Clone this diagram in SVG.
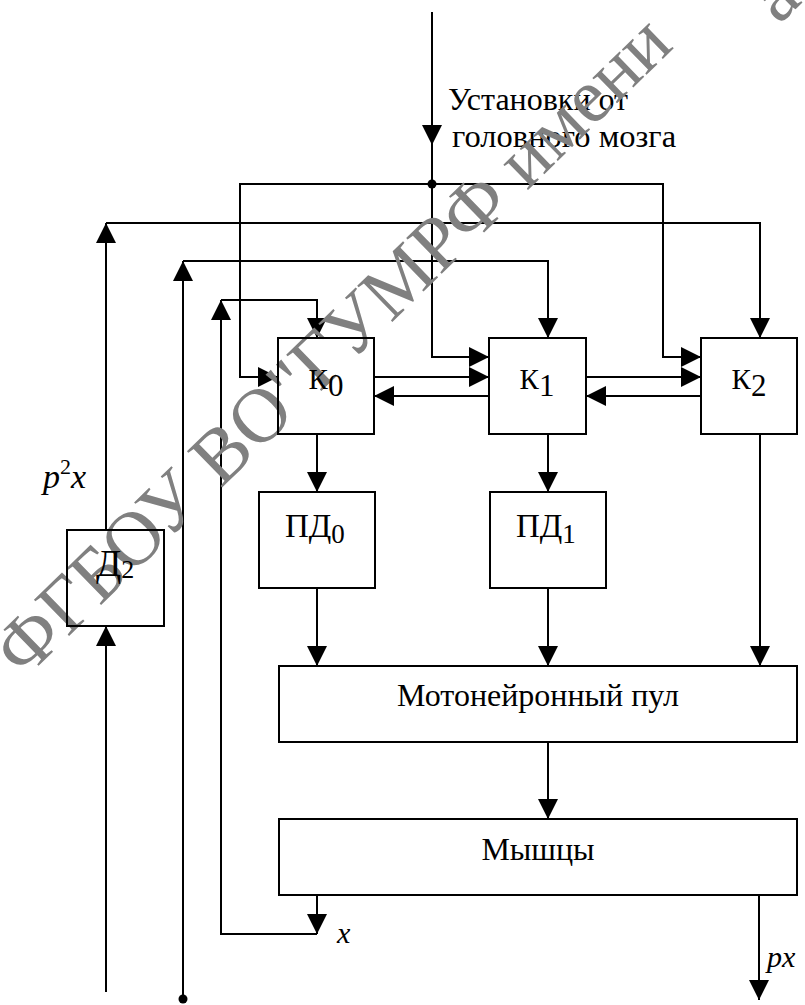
<svg xmlns="http://www.w3.org/2000/svg" width="805" height="1005" viewBox="0 0 805 1005">
<style>
.box{fill:none;stroke:#000;stroke-width:2}
.ln{fill:none;stroke:#000;stroke-width:2}
.t{font-family:"Liberation Serif","Times New Roman",serif;fill:#000}
.i{font-style:italic}
.wm{font-family:"Liberation Serif","Times New Roman",serif;fill:#808080;font-size:77px}
</style>
<defs>
<marker id="ah" markerUnits="userSpaceOnUse" markerWidth="20" markerHeight="20" viewBox="0 0 20 20" refX="20" refY="10" orient="auto">
<path d="M0,0 L20,10 L0,20 z" fill="#000"/>
</marker>
</defs>
<rect width="805" height="1005" fill="#fff"/>
<g id="connectors">
<path class="ln" d="M432,12 V145" marker-end="url(#ah)"/>
<path class="ln" d="M432,145 V357 H489" marker-end="url(#ah)"/>
<path class="ln" d="M432,184 H240 V377 H278" marker-end="url(#ah)"/>
<path class="ln" d="M432,184 H663 V357 H701" marker-end="url(#ah)"/>
<circle cx="432" cy="184" r="4.5" fill="#000"/>
<path class="ln" d="M106,530 V223" marker-end="url(#ah)"/>
<path class="ln" d="M106,223 H760 V338" marker-end="url(#ah)"/>
<path class="ln" d="M106,992 V626" marker-end="url(#ah)"/>
<path class="ln" d="M183,999 V261" marker-end="url(#ah)"/>
<path class="ln" d="M183,261 H548 V338" marker-end="url(#ah)"/>
<circle cx="183" cy="999" r="4.5" fill="#000"/>
<path class="ln" d="M317,895 V934" marker-end="url(#ah)"/>
<path class="ln" d="M317,934 H221 V300" marker-end="url(#ah)"/>
<path class="ln" d="M221,300 H317 V338" marker-end="url(#ah)"/>
<path class="ln" d="M374,377 H489" marker-end="url(#ah)"/>
<path class="ln" d="M489,396 H374" marker-end="url(#ah)"/>
<path class="ln" d="M586,377 H701" marker-end="url(#ah)"/>
<path class="ln" d="M701,396 H586" marker-end="url(#ah)"/>
<path class="ln" d="M317,434 V492" marker-end="url(#ah)"/>
<path class="ln" d="M548,434 V492" marker-end="url(#ah)"/>
<path class="ln" d="M317,588 V666" marker-end="url(#ah)"/>
<path class="ln" d="M548,588 V666" marker-end="url(#ah)"/>
<path class="ln" d="M760,434 V666" marker-end="url(#ah)"/>
<path class="ln" d="M548,742 V819" marker-end="url(#ah)"/>
<path class="ln" d="M759,895 V1000" marker-end="url(#ah)"/>
</g>
<g id="labels">
<text class="t" x="448" y="110" font-size="32">Установки от</text>
<text class="t" x="452" y="147" font-size="32.5">головного мозга</text>
<text class="t" x="43" y="488" font-size="34"><tspan class="i">p</tspan><tspan font-size="22" dy="-14">2</tspan><tspan class="i" dy="14">x</tspan></text>
<text class="t i" x="337" y="943" font-size="30">x</text>
<text class="t i" x="767" y="967" font-size="30">px</text>
</g>
<g id="watermark"><text class="wm" transform="translate(24,680) rotate(-44.2)">ФГБОУ ВО"ГУМРФ имени <tspan dx="70" dy="57">а</tspan></text></g>
<g id="k0"><rect class="box" x="278" y="338" width="96" height="96"/><text class="t" x="326" y="389" font-size="29" text-anchor="middle">К<tspan font-size="31" dy="7">0</tspan></text></g>
<g id="k1"><rect class="box" x="489" y="338" width="97" height="96"/><text class="t" x="537" y="389" font-size="29" text-anchor="middle">К<tspan font-size="31" dy="7">1</tspan></text></g>
<g id="k2"><rect class="box" x="701" y="338" width="96" height="96"/><text class="t" x="749" y="389" font-size="29" text-anchor="middle">К<tspan font-size="31" dy="7">2</tspan></text></g>
<g id="pd0"><rect class="box" x="259" y="492" width="116" height="96"/><text class="t" x="285" y="537" font-size="33">ПД<tspan font-size="27" dy="6">0</tspan></text></g>
<g id="pd1"><rect class="box" x="490" y="492" width="116" height="96"/><text class="t" x="516" y="537" font-size="33">ПД<tspan font-size="27" dy="6">1</tspan></text></g>
<g id="d2"><rect class="box" x="67" y="530" width="97" height="96"/><text class="t" x="96" y="576" font-size="37">Д<tspan font-size="26" dy="2">2</tspan></text></g>
<g id="motor"><rect class="box" x="279" y="666" width="518" height="76"/><text class="t" x="538" y="706" font-size="32" text-anchor="middle">Мотонейронный пул</text></g>
<g id="muscles"><rect class="box" x="279" y="819" width="518" height="76"/><text class="t" x="538" y="860" font-size="32" text-anchor="middle">Мышцы</text></g>
</svg>
